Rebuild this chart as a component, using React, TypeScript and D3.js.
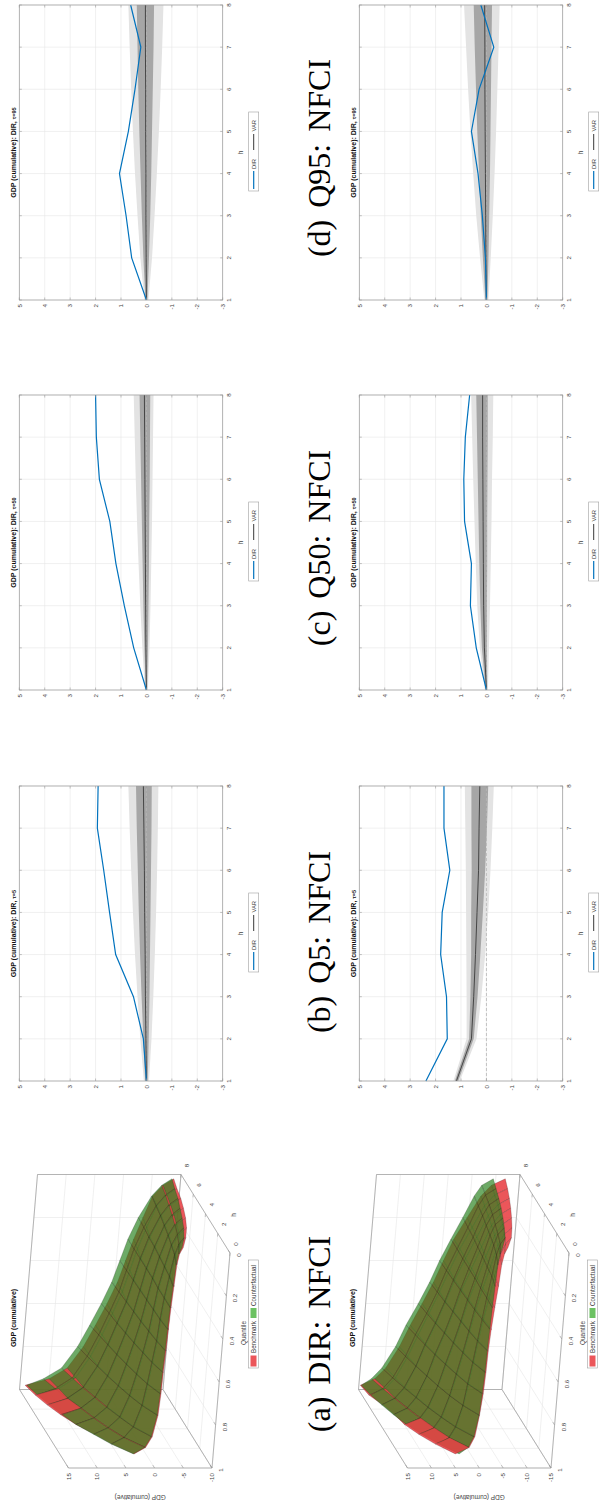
import * as d3 from "d3";

// ---- line panels: h = 1..8 ----
const horizons = [1, 2, 3, 4, 5, 6, 7, 8];
const lineYTicks = [-3, -2, -1, 0, 1, 2, 3, 4, 5];

// (b) Q5, row 1
const dirQ5Top = [0, 0.12, 0.51, 1.21, 1.45, 1.68, 1.93, 1.9];
const varQ5Top = [0, 0.02, 0.04, 0.05, 0.07, 0.08, 0.1, 0.12];
const lo68Q5Top = [-0.05, -0.09, -0.12, -0.14, -0.16, -0.18, -0.2, -0.21];
const hi68Q5Top = [0.05, 0.12, 0.19, 0.25, 0.3, 0.34, 0.38, 0.41];
const lo90Q5Top = [-0.1, -0.2, -0.27, -0.33, -0.38, -0.42, -0.45, -0.47];
const hi90Q5Top = [0.1, 0.24, 0.35, 0.45, 0.53, 0.6, 0.66, 0.71];

// (b) Q5, row 2
const dirQ5Bot = [2.38, 1.54, 1.57, 1.8, 1.74, 1.44, 1.67, 1.67];
const varQ5Bot = [1.18, 0.59, 0.5, 0.43, 0.37, 0.31, 0.29, 0.26];
const lo68Q5Bot = [1.11, 0.5, 0.35, 0.24, 0.14, 0.05, -0.02, -0.07];
const hi68Q5Bot = [1.24, 0.68, 0.63, 0.6, 0.6, 0.58, 0.59, 0.59];
const lo90Q5Bot = [1.05, 0.39, 0.2, 0.05, -0.07, -0.16, -0.23, -0.29];
const hi90Q5Bot = [1.3, 0.78, 0.78, 0.79, 0.8, 0.81, 0.83, 0.85];

// (c) Q50, row 1
const dirQ50Top = [0, 0.5, 0.87, 1.2, 1.44, 1.85, 1.97, 2.0];
const varQ50Top = [0, 0.02, 0.03, 0.04, 0.05, 0.06, 0.07, 0.08];
const lo68Q50Top = [-0.03, -0.06, -0.08, -0.1, -0.11, -0.13, -0.14, -0.15];
const hi68Q50Top = [0.03, 0.08, 0.12, 0.15, 0.18, 0.21, 0.24, 0.27];
const lo90Q50Top = [-0.06, -0.12, -0.16, -0.19, -0.22, -0.24, -0.26, -0.28];
const hi90Q50Top = [0.06, 0.16, 0.24, 0.31, 0.37, 0.42, 0.46, 0.5];

// (c) Q50, row 2
const dirQ50Bot = [0, 0.4, 0.63, 0.59, 0.86, 0.89, 0.83, 0.66];
const varQ50Bot = [0, 0.08, 0.11, 0.12, 0.13, 0.14, 0.15, 0.15];
const lo68Q50Bot = [-0.03, -0.02, -0.02, -0.03, -0.03, -0.04, -0.05, -0.05];
const hi68Q50Bot = [0.03, 0.18, 0.24, 0.28, 0.31, 0.34, 0.37, 0.4];
const lo90Q50Bot = [-0.06, -0.1, -0.14, -0.17, -0.2, -0.22, -0.25, -0.27];
const hi90Q50Bot = [0.06, 0.26, 0.36, 0.42, 0.47, 0.52, 0.56, 0.6];

// (d) Q95, row 1
const dirQ95Top = [0, 0.58, 0.8, 1.06, 0.71, 0.45, 0.22, 0.62];
const varQ95Top = [0, 0.01, 0.02, 0.02, 0.03, 0.03, 0.04, 0.04];
const lo68Q95Top = [-0.04, -0.1, -0.15, -0.19, -0.22, -0.25, -0.28, -0.3];
const hi68Q95Top = [0.04, 0.12, 0.18, 0.23, 0.28, 0.32, 0.35, 0.38];
const lo90Q95Top = [-0.08, -0.22, -0.32, -0.41, -0.49, -0.56, -0.62, -0.67];
const hi90Q95Top = [0.08, 0.24, 0.35, 0.45, 0.53, 0.6, 0.66, 0.71];

// (d) Q95, row 2
const dirQ95Bot = [0, 0.04, 0.16, 0.33, 0.59, 0.29, -0.29, 0.22];
const varQ95Bot = [0, 0.02, 0.03, 0.04, 0.05, 0.06, 0.06, 0.07];
const lo68Q95Bot = [-0.04, -0.08, -0.11, -0.14, -0.16, -0.18, -0.2, -0.22];
const hi68Q95Bot = [0.04, 0.14, 0.22, 0.29, 0.36, 0.41, 0.46, 0.5];
const lo90Q95Bot = [-0.08, -0.17, -0.25, -0.32, -0.38, -0.43, -0.48, -0.52];
const hi90Q95Bot = [0.08, 0.25, 0.4, 0.52, 0.63, 0.72, 0.8, 0.88];

// ---- 3D surfaces: one row per quantile, columns h = 1..8 ----
const surfQuantiles = [0.02, 0.05, 0.1, 0.2, 0.3, 0.4, 0.5, 0.6, 0.7, 0.8, 0.9, 0.95, 0.98];
const surfHorizons = [1, 2, 3, 4, 5, 6, 7, 8];
const qTicks = [0, 0.2, 0.4, 0.6, 0.8, 1];
const hTicks3d = [0, 2, 4, 6, 8];
const zTicksTop = [-10, -5, 0, 5, 10, 15];
const zTicksBot = [-15, -10, -5, 0, 5, 10, 15];

const cfTop = [
  [-2.8, -4.2, -5.2, -6.0, -6.7, -7.4, -7.9, -8.5],
  [-2.3, -3.4, -4.2, -4.8, -5.4, -5.9, -6.4, -6.8],
  [-2.0, -2.8, -3.3, -3.8, -4.2, -4.6, -4.9, -5.2],
  [-1.8, -2.2, -2.4, -2.6, -2.8, -2.9, -3.1, -3.2],
  [-1.6, -1.6, -1.6, -1.7, -1.7, -1.7, -1.7, -1.7],
  [-1.45, -1.2, -1.1, -1.0, -0.9, -0.8, -0.7, -0.6],
  [-1.35, -0.9, -0.6, -0.3, -0.1, 0.1, 0.3, 0.5],
  [-1.2, -0.4, 0.1, 0.6, 1.0, 1.4, 1.7, 2.0],
  [-1.1, 0.1, 0.9, 1.6, 2.2, 2.7, 3.2, 3.7],
  [-0.9, 0.7, 1.8, 2.7, 3.5, 4.2, 4.9, 5.5],
  [-0.2, 1.9, 3.2, 4.4, 5.4, 6.4, 7.2, 8.0],
  [0.8, 3.4, 5.1, 6.5, 7.7, 9.0, 10.0, 11.0],
  [2.7, 5.5, 7.5, 9.5, 10.8, 12.0, 13.0, 13.8],
];
const bmTop = [
  [-3.0, -4.5, -5.7, -6.6, -7.3, -7.9, -8.3, -8.8],
  [-2.45, -3.6, -4.5, -5.1, -5.7, -6.2, -6.6, -7.0],
  [-2.15, -2.95, -3.45, -3.95, -4.35, -4.75, -5.05, -5.35],
  [-1.95, -2.35, -2.55, -2.75, -2.95, -3.1, -3.6, -4.0],
  [-1.75, -1.75, -1.75, -1.85, -1.85, -1.85, -2.3, -2.7],
  [-1.6, -1.35, -1.25, -1.15, -1.05, -0.95, -1.3, -1.6],
  [-1.5, -1.05, -0.75, -0.45, -0.25, -0.05, -0.3, -0.5],
  [-1.35, -0.55, -0.05, 0.45, 0.85, 1.25, 1.1, 1.0],
  [-1.25, -0.05, 0.75, 1.45, 2.05, 2.55, 2.6, 2.7],
  [-1.05, 0.55, 1.65, 2.55, 3.35, 4.05, 4.3, 4.5],
  [-0.35, 1.75, 3.05, 4.25, 5.25, 6.25, 6.6, 7.0],
  [0.65, 3.25, 4.95, 6.35, 7.55, 8.85, 9.4, 10.0],
  [2.55, 5.35, 7.35, 9.5, 11.1, 12.4, 13.4, 14.1],
];
const cfBot = [
  [-2.5, -4.3, -5.4, -6.4, -7.3, -8.1, -8.8, -9.5],
  [-2.1, -3.4, -4.2, -4.9, -5.6, -6.2, -6.7, -7.2],
  [-1.8, -2.8, -3.5, -4.0, -4.5, -5.0, -5.4, -5.8],
  [-1.6, -2.2, -2.5, -2.8, -3.1, -3.4, -3.6, -3.8],
  [-1.4, -1.5, -1.5, -1.6, -1.6, -1.6, -1.7, -1.7],
  [-1.25, -0.9, -0.6, -0.4, -0.2, 0.0, 0.15, 0.3],
  [-1.1, -0.3, 0.2, 0.6, 1.0, 1.4, 1.7, 2.0],
  [-1.0, 0.3, 1.1, 1.8, 2.4, 3.0, 3.5, 4.0],
  [-0.8, 1.0, 2.1, 3.1, 4.0, 4.8, 5.5, 6.2],
  [-0.5, 1.6, 3.1, 4.3, 5.3, 6.3, 7.2, 8.0],
  [0.2, 2.8, 4.5, 6.0, 7.2, 8.4, 9.5, 10.5],
  [1.2, 4.0, 5.9, 7.5, 8.9, 10.2, 11.4, 12.5],
  [3.0, 6.0, 8.3, 10.2, 11.6, 12.8, 13.8, 14.5],
];
const bmBot = [
  [-3.6, -5.6, -7.0, -8.2, -9.3, -10.3, -11.2, -12.0],
  [-3.0, -4.5, -5.5, -6.4, -7.2, -8.0, -8.6, -9.2],
  [-2.6, -3.6, -4.4, -5.0, -5.6, -6.2, -6.7, -7.2],
  [-2.3, -2.8, -3.2, -3.5, -3.9, -4.2, -4.5, -4.7],
  [-1.9, -2.0, -2.0, -2.1, -2.2, -2.2, -2.3, -2.3],
  [-1.55, -1.2, -0.9, -0.7, -0.5, -0.3, -0.5, -0.5],
  [-1.3, -0.5, 0.0, 0.4, 0.8, 1.2, 1.2, 1.2],
  [-1.2, 0.1, 0.9, 1.6, 2.2, 2.8, 3.0, 3.2],
  [-1.0, 0.8, 1.9, 2.9, 3.8, 4.6, 4.9, 5.3],
  [-0.6, 1.5, 3.0, 4.2, 5.2, 6.2, 6.7, 7.2],
  [0.0, 2.6, 4.3, 5.8, 7.0, 8.2, 8.9, 9.7],
  [1.0, 3.8, 5.7, 7.3, 8.7, 10.0, 10.8, 11.8],
  [3.8, 6.7, 8.9, 10.6, 11.4, 12.6, 14.2, 14.7],
];

const captions = ["(a) DIR: NFCI", "(b) Q5: NFCI", "(c) Q50: NFCI", "(d) Q95: NFCI"];

// figure is drawn in landscape (1510 x 600) and turned a quarter to fit the page
const FIG_W = 1510;
const PLOT_W = 295;
const PLOT_H = 203.4;
const ROW_STEP = 340;
const SANS = "'Liberation Sans', Arial, Helvetica, sans-serif";
const BLUE = "#0072BD";
const AXIS = "#9a9a9a";
const GRID = "#e6e6e6";
const RED = "#e8383d";
const GREEN = "#28821e";

const linePanels = [
  { left: 429, row: 0, tau: "5", dir: dirQ5Top, mid: varQ5Top, lo68: lo68Q5Top, hi68: hi68Q5Top, lo90: lo90Q5Top, hi90: hi90Q5Top },
  { left: 429, row: 1, tau: "5", dir: dirQ5Bot, mid: varQ5Bot, lo68: lo68Q5Bot, hi68: hi68Q5Bot, lo90: lo90Q5Bot, hi90: hi90Q5Bot },
  { left: 820, row: 0, tau: "50", dir: dirQ50Top, mid: varQ50Top, lo68: lo68Q50Top, hi68: hi68Q50Top, lo90: lo90Q50Top, hi90: hi90Q50Top },
  { left: 820, row: 1, tau: "50", dir: dirQ50Bot, mid: varQ50Bot, lo68: lo68Q50Bot, hi68: hi68Q50Bot, lo90: lo90Q50Bot, hi90: hi90Q50Bot },
  { left: 1210, row: 0, tau: "95", dir: dirQ95Top, mid: varQ95Top, lo68: lo68Q95Top, hi68: hi68Q95Top, lo90: lo90Q95Top, hi90: hi90Q95Top },
  { left: 1210, row: 1, tau: "95", dir: dirQ95Bot, mid: varQ95Bot, lo68: lo68Q95Bot, hi68: hi68Q95Bot, lo90: lo90Q95Bot, hi90: hi90Q95Bot },
];

type Panel = (typeof linePanels)[number];

function LineChart({ p }: { p: Panel }) {
  const top = 19.3 + p.row * ROW_STEP;
  const x = d3.scaleLinear().domain([1, 8]).range([p.left, p.left + PLOT_W]);
  const y = d3.scaleLinear().domain([-3, 5]).range([top + PLOT_H, top]);
  const area = (lo: number[], hi: number[]) =>
    d3
      .area<number>()
      .x((_, i) => x(horizons[i]))
      .y0((_, i) => y(lo[i]))
      .y1((_, i) => y(hi[i]))(lo) ?? "";
  const line = d3
    .line<number>()
    .x((_, i) => x(horizons[i]))
    .y((d) => y(d));
  const cx = p.left + PLOT_W / 2;
  const bottom = top + PLOT_H;
  const lgX = cx - 38.5;
  const lgY = bottom + 26;

  return (
    <g fontFamily={SANS}>
      {horizons.map((h) => (
        <line key={"gx" + h} x1={x(h)} x2={x(h)} y1={top} y2={bottom} stroke={GRID} strokeWidth={0.6} />
      ))}
      {lineYTicks.map((t) => (
        <line key={"gy" + t} x1={p.left} x2={p.left + PLOT_W} y1={y(t)} y2={y(t)} stroke={GRID} strokeWidth={0.6} />
      ))}
      <path d={area(p.lo90, p.hi90)} fill="#e3e3e3" />
      <path d={area(p.lo68, p.hi68)} fill="#a6a6a6" />
      <line x1={x(1)} x2={x(8)} y1={y(0)} y2={y(0)} stroke="#b5b5b5" strokeWidth={0.8} strokeDasharray="3,2" />
      <path d={line(p.mid) ?? ""} fill="none" stroke="#3a3a3a" strokeWidth={0.9} />
      <path d={line(p.dir) ?? ""} fill="none" stroke={BLUE} strokeWidth={1.2} />
      <rect x={p.left} y={top} width={PLOT_W} height={PLOT_H} fill="none" stroke={AXIS} strokeWidth={0.7} />
      {horizons.map((h) => (
        <g key={"tx" + h}>
          <line x1={x(h)} x2={x(h)} y1={bottom} y2={bottom - 2.5} stroke={AXIS} strokeWidth={0.6} />
          <line x1={x(h)} x2={x(h)} y1={top} y2={top + 2.5} stroke={AXIS} strokeWidth={0.6} />
          <text x={x(h)} y={bottom + 8.6} fontSize={6.2} fill="#444" textAnchor="middle">
            {h}
          </text>
        </g>
      ))}
      {lineYTicks.map((t) => (
        <g key={"ty" + t}>
          <line x1={p.left} x2={p.left + 2.5} y1={y(t)} y2={y(t)} stroke={AXIS} strokeWidth={0.6} />
          <line x1={p.left + PLOT_W} x2={p.left + PLOT_W - 2.5} y1={y(t)} y2={y(t)} stroke={AXIS} strokeWidth={0.6} />
          <text x={p.left - 4} y={y(t) + 2.2} fontSize={6.2} fill="#444" textAnchor="end">
            {t}
          </text>
        </g>
      ))}
      <text x={cx} y={top - 3} textAnchor="middle" fontSize={7} fontWeight="bold" fill="#111">
        GDP (cumulative): DIR,{" "}
        <tspan fontSize={5.6}>τ={p.tau}</tspan>
      </text>
      <text x={cx} y={bottom + 20} textAnchor="middle" fontSize={6.5} fill="#444">
        h
      </text>
      <rect x={lgX} y={lgY} width={79} height={10} fill="#fff" stroke="#a0a0a0" strokeWidth={0.6} />
      <line x1={lgX + 2} x2={lgX + 20} y1={lgY + 5} y2={lgY + 5} stroke={BLUE} strokeWidth={1.2} />
      <text x={lgX + 22} y={lgY + 7.2} fontSize={5.8} fill="#333">
        DIR
      </text>
      <line x1={lgX + 41} x2={lgX + 57} y1={lgY + 5} y2={lgY + 5} stroke="#222" strokeWidth={0.9} />
      <text x={lgX + 59.5} y={lgY + 7.2} fontSize={5.8} fill="#333">
        VAR
      </text>
    </g>
  );
}

type Quad = { s: number; depth: number; pts: [number, number][] };

function Surface3D({
  ox,
  oy,
  zDomain,
  zTicks,
  bench,
  cf,
}: {
  ox: number;
  oy: number;
  zDomain: [number, number];
  zTicks: number[];
  bench: number[][];
  cf: number[][];
}) {
  const u = d3.scaleLinear().domain([1, 0]).range([0, 1]);
  const v = d3.scaleLinear().domain([0, 8]).range([0, 1]);
  const w = d3.scaleLinear().domain(zDomain).range([0, 1]);
  const P = (q: number, h: number, z: number): [number, number] => [
    ox + 215 * u(q) + 78.5 * v(h),
    oy + 18 * u(q) - 49 * v(h) - 143.5 * w(z),
  ];
  // distance toward the viewer (orthographic view from front-left, above)
  const near = (q: number, h: number, z: number) => 0.34 * u(q) - 0.94 * v(h) + 0.37 * w(z);
  const [z0, z1] = zDomain;

  const quads: Quad[] = [];
  [bench, cf].forEach((grid, s) => {
    for (let j = 0; j < surfQuantiles.length - 1; j++) {
      for (let i = 0; i < surfHorizons.length - 1; i++) {
        const corners = [
          [j, i],
          [j + 1, i],
          [j + 1, i + 1],
          [j, i + 1],
        ].map(([a, b]) => [surfQuantiles[a], surfHorizons[b], grid[a][b]]);
        quads.push({
          s,
          depth: d3.mean(corners, (c) => near(c[0], c[1], c[2])) ?? 0,
          pts: corners.map((c) => P(c[0], c[1], c[2])),
        });
      }
    }
  });
  quads.sort((a, b) => a.depth - b.depth);

  const seg = (a: [number, number], b: [number, number]) => `M${a[0]},${a[1]}L${b[0]},${b[1]}`;
  const gridD = [
    ...qTicks.map((q) => seg(P(q, 0, z0), P(q, 8, z0))),
    ...hTicks3d.map((h) => seg(P(1, h, z0), P(0, h, z0))),
    ...zTicks.map((z) => seg(P(1, 0, z), P(1, 8, z))),
    ...hTicks3d.map((h) => seg(P(1, h, z0), P(1, h, z1))),
    ...zTicks.map((z) => seg(P(1, 8, z), P(0, 8, z))),
    ...qTicks.map((q) => seg(P(q, 8, z0), P(q, 8, z1))),
  ].join("");
  const boxD = [
    seg(P(1, 0, z0), P(0, 0, z0)),
    seg(P(0, 0, z0), P(0, 8, z0)),
    seg(P(0, 8, z0), P(1, 8, z0)),
    seg(P(1, 8, z0), P(1, 0, z0)),
    seg(P(1, 0, z0), P(1, 0, z1)),
    seg(P(1, 8, z0), P(1, 8, z1)),
    seg(P(0, 8, z0), P(0, 8, z1)),
    seg(P(1, 0, z1), P(1, 8, z1)),
    seg(P(1, 8, z1), P(0, 8, z1)),
  ].join("");
  const tickD = [
    ...qTicks.map((q) => seg(P(q, 0, z0), P(q, 0.3, z0))),
    ...hTicks3d.map((h) => seg(P(0, h, z0), P(0.015, h, z0))),
    ...zTicks.map((z) => seg(P(1, 0, z), P(1, 0.3, z))),
  ].join("");

  const zMid = P(1, 0, (z0 + z1) / 2);
  const lgX = ox + 100;
  const lgY = oy + 36.5;

  return (
    <g fontFamily={SANS}>
      <path d={gridD} stroke={GRID} strokeWidth={0.6} fill="none" />
      <path d={boxD} stroke={AXIS} strokeWidth={0.7} fill="none" />
      <path d={tickD} stroke={AXIS} strokeWidth={0.6} fill="none" />
      {quads.map((qd, k) => (
        <path
          key={k}
          d={"M" + qd.pts.map((p) => p.join(",")).join("L") + "Z"}
          fill={qd.s === 0 ? RED : GREEN}
          fillOpacity={qd.s === 0 ? 0.85 : 0.68}
          stroke="#141414"
          strokeOpacity={0.6}
          strokeWidth={0.32}
          strokeLinejoin="round"
        />
      ))}
      {zTicks.map((z) => {
        const [px, py] = P(1, 0, z);
        return (
          <text key={"zl" + z} x={px - 5} y={py + 2.2} fontSize={6.2} fill="#444" textAnchor="end">
            {z}
          </text>
        );
      })}
      {qTicks.map((q) => {
        const [px, py] = P(q, 0, z0);
        return (
          <text key={"ql" + q} x={px - 2} y={py + 11} fontSize={6.2} fill="#444" textAnchor="middle">
            {q}
          </text>
        );
      })}
      {hTicks3d.map((h) => {
        const [px, py] = P(0, h, z0);
        return (
          <text key={"hl" + h} x={px + 9} y={py + 8} fontSize={6.2} fill="#444" textAnchor="middle">
            {h}
          </text>
        );
      })}
      <text x={ox + 253} y={oy + 24} fontSize={6.5} fill="#444" textAnchor="middle">
        h
      </text>
      <text x={ox + 135} y={oy + 33.5} fontSize={6.5} fill="#444" textAnchor="middle">
        Quantile
      </text>
      <text
        transform={`translate(${ox - 27},${zMid[1]}) rotate(-90)`}
        fontSize={6.5}
        fill="#444"
        textAnchor="middle"
      >
        GDP (cumulative)
      </text>
      <text x={ox + 150} y={oy - 196} fontSize={7} fontWeight="bold" fill="#111" textAnchor="middle">
        GDP (cumulative)
      </text>
      <rect x={lgX} y={lgY} width={108} height={10} fill="#fff" stroke="#a0a0a0" strokeWidth={0.6} />
      <rect x={lgX + 1.5} y={lgY + 2} width={11} height={6} fill={RED} fillOpacity={0.85} />
      <text x={lgX + 15} y={lgY + 7.3} fontSize={6.3} fill="#333">
        Benchmark
      </text>
      <rect x={lgX + 50} y={lgY + 2} width={10} height={6} fill="#6cc162" />
      <text x={lgX + 62} y={lgY + 7.3} fontSize={6.3} fill="#333">
        Counterfactual
      </text>
    </g>
  );
}

const captionCenters = [176, 568, 962, 1352];

export default function App() {
  return (
    <svg
      width={600}
      height={FIG_W}
      style={{ position: "absolute", left: 0, top: 0, background: "#fff" }}
    >
      <rect width={600} height={FIG_W} fill="#fff" />
      <g transform={`translate(0,${FIG_W}) rotate(-90)`}>
        <Surface3D ox={42} oy={212} zDomain={[-10, 15]} zTicks={zTicksTop} bench={bmTop} cf={cfTop} />
        <Surface3D ox={42} oy={551} zDomain={[-15, 15]} zTicks={zTicksBot} bench={bmBot} cf={cfBot} />
        {linePanels.map((p, i) => (
          <LineChart key={i} p={p} />
        ))}
        {captions.map((c, i) => (
          <text
            key={c}
            x={captionCenters[i]}
            y={330}
            textAnchor="middle"
            fontFamily="'Liberation Serif', 'Times New Roman', serif"
            fontSize={32}
            wordSpacing={4}
            fill="#000"
          >
            {c}
          </text>
        ))}
      </g>
    </svg>
  );
}
